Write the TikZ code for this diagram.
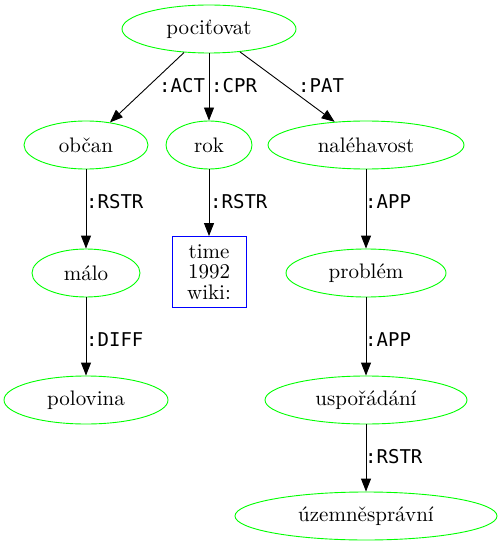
\documentclass[tikz,border=0pt]{standalone}
\usepackage{fontspec}
\newfontfamily\lblfont{DejaVu Sans Mono}
\newfontfamily\nodefont{lmroman10-regular.otf}
\usetikzlibrary{shapes.geometric,arrows.meta}
\begin{document}
\begin{tikzpicture}[x=1pt,y=-1pt,
  every node/.style={font=\nodefont\fontsize{21}{21}\selectfont},
  lemma/.style={ellipse,draw=green,line width=0.9pt,inner sep=0pt,minimum height=48pt},
  infobox/.style={rectangle,draw=blue,line width=0.9pt,inner sep=0pt,minimum width=74pt,minimum height=71pt,align=center,font=\nodefont\fontsize{21}{20.5}\selectfont},
  edge/.style={draw=black,line width=0.9pt,-{Triangle[length=13pt,width=10pt]}},
  elbl/.style={font=\lblfont\fontsize{19}{20}\selectfont,inner sep=1pt}
]
\useasboundingbox (0,0) rectangle (502,545);
\node[lemma,minimum width=174pt] (poc) at (209,29) {pociťovat};
\node[lemma,minimum width=124pt] (obc) at (86,145) {občan};
\node[lemma,minimum width=86pt] (rok) at (209,145) {rok};
\node[lemma,minimum width=196pt] (nal) at (366,145) {naléhavost};
\node[lemma,minimum width=108pt] (mal) at (86,273) {málo};
\node[lemma,minimum width=164pt] (pol) at (86,400) {polovina};
\node[infobox] (tim) at (209,272) {time\\1992\\wiki:};
\node[lemma,minimum width=160pt] (pro) at (366,273) {problém};
\node[lemma,minimum width=202pt] (usp) at (366,400) {uspořádání};
\node[lemma,minimum width=262pt] (uze) at (366,516) {územněsprávní};
\path[edge] (poc) -- (obc);
\path[edge] (poc) -- (rok);
\path[edge] (poc) -- (nal);
\path[edge] (obc) -- (mal);
\path[edge] (mal) -- (pol);
\path[edge] (rok) -- (tim);
\path[edge] (nal) -- (pro);
\path[edge] (pro) -- (usp);
\path[edge] (usp) -- (uze);
\node[elbl,anchor=west] (l1) at (158,86) {:ACT};
\node[elbl,anchor=west] (l2) at (210,86) {:CPR};
\node[elbl,anchor=west] (l3) at (297,86) {:PAT};
\node[elbl,anchor=west] (l4) at (85,201.5) {:RSTR};
\node[elbl,anchor=west] (l5) at (85,340) {:DIFF};
\node[elbl,anchor=west] (l6) at (209,201.5) {:RSTR};
\node[elbl,anchor=west] (l7) at (364,201.5) {:APP};
\node[elbl,anchor=west] (l8) at (364,340) {:APP};
\node[elbl,anchor=west] (l9) at (364,457) {:RSTR};
\end{tikzpicture}
\end{document}
